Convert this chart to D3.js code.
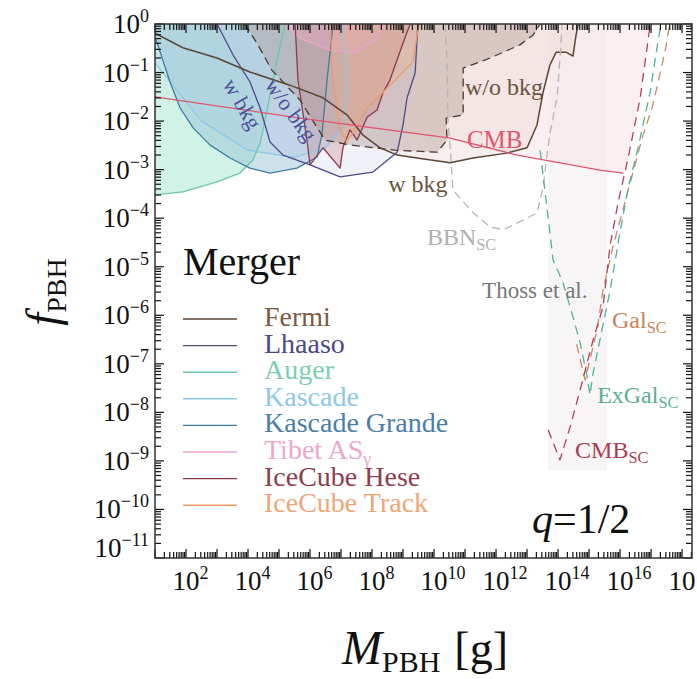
<!DOCTYPE html>
<html>
<head>
<meta charset="utf-8">
<script src="https://cdn.jsdelivr.net/npm/d3@7"></script>
<style>
  body { margin: 0; background: #fff; }
  svg text { font-family: "Liberation Serif", "Times New Roman", serif; }
</style>
</head>
<body>
<svg id="chart" width="697" height="679" font-family="Liberation Serif, Times New Roman, serif"></svg>
<script>
// all curves: [log10(M_PBH / g), log10(f_PBH)]
const fermiWBkg = [[1.0,-0.19],[1.90,-0.49],[3.0,-0.70],[4.06,-0.99],[5.35,-1.26],[6.42,-1.52],[7.19,-1.87],[7.71,-2.29],[8.26,-2.55],[8.81,-2.70],[9.45,-2.76],[10.52,-2.86],[11.26,-2.76],[12.35,-2.66],[13.0,-2.55],[13.32,-2.08],[13.52,-1.40],[13.74,-0.84],[13.94,-0.58],[14.26,-0.58],[14.48,-0.66],[14.58,-0.23],[14.65,0]];
const fermiWoBkg = [[3.90,0],[4.32,-0.43],[4.77,-0.95],[5.68,-1.57],[6.48,-2.39],[7.29,-2.49],[8.74,-2.60],[10.10,-2.64],[10.42,-2.39],[10.39,-1.94],[10.94,-1.87],[10.94,-0.91],[11.81,-0.70],[12.77,-0.43],[13.19,-0.23],[13.42,0]];
const lhaaso = [[3.0,0],[3.52,-0.64],[4.06,-1.19],[4.39,-1.73],[4.71,-2.43],[5.13,-2.70],[6.0,-2.90],[6.97,-3.15],[8.03,-3.05],[8.81,-2.64],[9.0,-2.08],[9.13,-1.52],[9.39,-1.01],[9.48,0]];
const auger = [[1.0,-3.52],[1.90,-3.46],[3.0,-3.25],[3.74,-3.07],[4.16,-2.80],[4.39,-2.45],[4.55,-1.98],[4.87,-0.95],[5.19,0]];
const kascade = [[1.0,-0.8],[2.5,-2.0],[4.0,-2.6],[5.5,-2.75],[6.5,-2.55],[7.1,-2.1],[7.2,-1.2],[7.05,0]];
const kascadeGrande = [[1.0,-0.30],[1.06,-0.37],[1.48,-1.19],[1.81,-1.73],[2.23,-2.14],[2.77,-2.49],[3.42,-2.76],[4.06,-2.97],[4.71,-3.07],[5.58,-2.97],[6.23,-2.74],[6.39,-2.25],[6.55,-1.15],[6.71,-0.19],[6.74,0]];
const tibet = [[5.19,0],[5.68,-0.29],[6.65,-0.54],[7.45,-0.58],[8.10,-0.33],[8.42,0]];
const iceHese = [[5.52,0],[5.61,-1.15],[5.90,-2.39],[6.0,-2.90],[6.42,-2.55],[6.97,-2.97],[7.06,-2.55],[7.29,-2.18],[7.52,-2.39],[7.84,-1.92],[8.16,-1.77],[8.35,-1.42],[8.58,-1.15],[9.0,-0.39],[9.23,0]];
const iceTrack = [[6.65,0],[6.74,-1.15],[6.97,-2.18],[7.19,-2.43],[7.52,-2.08],[7.84,-1.73],[8.58,-1.26],[9.32,-0.78],[9.45,-0.23],[9.55,0]];

const cmbLine = [[1.0,-1.50],[5.68,-1.94],[10.52,-2.35],[12.68,-2.70],[15.35,-3.01],[16.10,-3.07]];
const bbnSC = [[10.35,0],[10.42,-0.74],[10.45,-1.98],[10.52,-2.53],[10.61,-3.42],[11.26,-3.89],[11.81,-4.18],[12.23,-4.24],[12.87,-4.04],[13.32,-3.89],[13.52,-3.36],[13.65,-2.66],[13.74,-2.25],[13.97,-1.50],[14.06,-0.74],[14.13,0]];
const thoss = [[13.68,0],[13.68,-9.19],[15.58,-9.19],[15.58,0]];
const galSC = [[14.6,-6.6],[14.87,-7.33],[15.26,-6.30],[15.45,-5.48],[15.77,-4.59],[16.42,-3.05],[16.71,-2.35],[17.03,-1.73],[17.26,-1.11],[17.48,-0.47],[17.6,0]];
const exGalSC = [[13.42,-2.6],[13.84,-4.86],[14.16,-5.33],[14.48,-6.03],[14.71,-6.57],[14.94,-7.27],[15.03,-7.64],[15.13,-7.19],[15.35,-6.51],[15.68,-5.48],[16.0,-4.28],[16.26,-3.38],[16.58,-2.55],[16.97,-1.40],[17.19,-0.49],[17.32,0]];
const cmbSC = [[13.68,-8.36],[14.06,-8.98],[14.39,-8.30],[14.71,-7.54],[15.13,-6.51],[15.45,-5.83],[15.68,-4.55],[15.94,-3.67],[16.26,-2.76],[16.65,-1.52],[16.94,-0.16],[17.0,0]];

const legendNames = ["Fermi", "Lhaaso", "Auger", "Kascade", "Kascade Grande", "Tibet AS", "IceCube Hese", "IceCube Track"];
const xLabelExps = [2, 4, 6, 8, 10, 12, 14, 16, 18];
const yLabelExps = [0, -1, -2, -3, -4, -5, -6, -7, -8, -9, -10, -11];

const legendLine = ["#5b4636", "#4d4b88", "#6cc7a6", "#8cc8e6", "#3f7d9d", "#eaa6cc", "#8c3b4b", "#ec9c68"];
const legendText = ["#7b5a40", "#4b4a86", "#7ccfae", "#8ec8e6", "#4a7ea6", "#eaa7cf", "#8d3e4e", "#eea679"];

const svg = d3.select("#chart");
const L = 155, R = 692, T = 24, B = 558;

const x = d3.scaleLog().domain([1e1, Math.pow(10, 18.32)]).range([L, R]);
const y = d3.scaleLog().domain([1e-11, 1]).range([B, T]);
const line = d3.line().x(d => x(Math.pow(10, d[0]))).y(d => y(Math.pow(10, d[1])));

svg.append("defs").append("clipPath").attr("id", "plotclip")
	.append("rect").attr("x", L).attr("y", T).attr("width", R - L).attr("height", B - T);

const plot = svg.append("g").attr("clip-path", "url(#plotclip)");

// filled region bounded by a curve and the top of the frame
function region(pts, fill, op) {
	let poly = pts.concat([[pts[pts.length - 1][0], 1], [pts[0][0], 1]]);
	plot.append("path").attr("d", line(poly) + "Z")
		.attr("fill", fill).attr("fill-opacity", op).attr("stroke", "none");
}
function curve(pts, color, dash, w) {
	plot.append("path").attr("d", line(pts))
		.attr("fill", "none").attr("stroke", color)
		.attr("stroke-width", w || 1.3)
		.attr("stroke-dasharray", dash || null)
		.attr("stroke-linejoin", "round");
}

plot.append("path").attr("d", line(thoss) + "Z").attr("fill", "#f2eeee").attr("fill-opacity", 0.6);
region(cmbLine.concat(cmbSC.filter(p => p[1] > -3.07)), "#f7e2e4", 0.5);
region(fermiWBkg, "#ecd8d2", 0.4);
region(auger, "#c6efe1", 0.8);
region(kascade, "#b6dcee", 0.4);
region(kascadeGrande, "#9cc3d8", 0.5);
region(lhaaso, "#c8c6e6", 0.25);
region(fermiWoBkg, "#b09890", 0.4);
region(tibet, "#efb8d8", 0.45);
region(iceHese, "#c47e7e", 0.3);
region(iceTrack, "#f0b088", 0.3);

curve(auger, "#6cc7a6");
curve(kascade, "#8cc8e6");
curve(kascadeGrande, "#3f7d9d");
curve(lhaaso, "#4d4b88");
curve(tibet, "#eaa6cc");
curve(iceHese, "#8c3b4b");
curve(iceTrack, "#ec9c68");
curve(fermiWoBkg, "#4a3a30", "8,5");
curve(fermiWBkg, "#5b4636", null, 1.5);
curve(cmbLine, "#e0566e", null, 1.3);
curve(bbnSC, "#b4b4b4", "8,5");
curve(galSC, "#c98a60", "9,6");
curve(exGalSC, "#4eb39a", "9,6");
curve(cmbSC, "#b0405a", "9,6");

// annotations
function note(p, parts, color, size, rot) {
	let t = svg.append("text")
		.attr("x", x(Math.pow(10, p[0]))).attr("y", y(Math.pow(10, p[1])))
		.attr("fill", color).attr("font-size", size);
	if (rot) {
		t.attr("text-anchor", "middle")
			.attr("transform", `rotate(${rot},${x(Math.pow(10, p[0]))},${y(Math.pow(10, p[1]))})`);
	}
	t.append("tspan").text(parts[0]);
	if (parts[1]) t.append("tspan").attr("font-size", size * 0.68).attr("dy", 5).text(parts[1]);
}
note([11.0, -1.46], ["w/o bkg"], "#6b5442", 24);
note([8.52, -3.46], ["w bkg"], "#6b5442", 24);
note([11.06, -2.55], ["CMB"], "#e0566e", 25);
note([9.77, -4.55], ["BBN", "SC"], "#b0b0b0", 24);
note([11.55, -5.64], ["Thoss et al."], "#777777", 23);
note([15.74, -6.26], ["Gal", "SC"], "#c4865a", 24);
note([15.26, -7.81], ["ExGal", "SC"], "#5aae96", 24);
note([14.55, -8.94], ["CMB", "SC"], "#a83c52", 24);
note([3.61, -1.72], ["w bkg"], "#4f4f98", 22, 60);
note([5.19, -1.86], ["w/o bkg"], "#4f4f98", 22, 54);

// legend
svg.append("text").attr("x", 183).attr("y", 275).attr("font-size", 40).attr("fill", "#111").text("Merger");
legendNames.forEach((n, i) => {
	let ly = 319 + i * 26.6;
	svg.append("line").attr("x1", 183).attr("x2", 237).attr("y1", ly).attr("y2", ly)
		.attr("stroke", legendLine[i]).attr("stroke-width", 1.4);
	let t = svg.append("text").attr("x", 264).attr("y", ly + 7).attr("font-size", 28).attr("fill", legendText[i]);
	t.append("tspan").text(n);
	if (n === "Tibet AS") t.append("tspan").attr("font-size", 18).attr("dy", 6).text("γ");
});

let q = svg.append("text").attr("x", 532).attr("y", 533).attr("font-size", 42).attr("fill", "#111");
q.append("tspan").attr("font-style", "italic").text("q");
q.append("tspan").text("=1/2");

// ticks on all four sides
const tk = svg.append("g").attr("stroke", "#111").attr("stroke-width", 1.2);
for (let e = 1; e <= 18; e++) {
	for (let m = 1; m <= 9; m++) {
		let v = m * Math.pow(10, e);
		if (v > x.domain()[1]) continue;
		let xx = x(v), len = m === 1 ? 9 : 6;
		tk.append("line").attr("x1", xx).attr("x2", xx).attr("y1", B).attr("y2", B - len);
		tk.append("line").attr("x1", xx).attr("x2", xx).attr("y1", T).attr("y2", T + len);
	}
}
for (let e = -11; e <= 0; e++) {
	for (let m = 1; m <= 9; m++) {
		let v = m * Math.pow(10, e);
		if (v > 1) continue;
		let yy = y(v), len = m === 1 ? 9 : 6;
		tk.append("line").attr("x1", L).attr("x2", L + len).attr("y1", yy).attr("y2", yy);
		tk.append("line").attr("x1", R).attr("x2", R - len).attr("y1", yy).attr("y2", yy);
	}
}

svg.append("rect").attr("x", L).attr("y", T).attr("width", R - L).attr("height", B - T)
	.attr("fill", "none").attr("stroke", "#333").attr("stroke-width", 1.5);

// tick labels
xLabelExps.forEach(e => {
	let t = svg.append("text").attr("x", x(Math.pow(10, e)) - 13.5).attr("y", 590)
		.attr("font-size", 27).attr("fill", "#111");
	t.append("tspan").text("10");
	t.append("tspan").attr("font-size", 18).attr("dy", -11).text(e);
});
yLabelExps.forEach(e => {
	let yy = y(Math.pow(10, e)) + 9 - (e === -11 ? 10 : 0);
	let t = svg.append("text").attr("x", 149).attr("y", yy).attr("text-anchor", "end")
		.attr("font-size", 27).attr("fill", "#111");
	t.append("tspan").text("10");
	t.append("tspan").attr("font-size", 18).attr("dy", -11).text(e === 0 ? "0" : "\u2212" + (-e));
});

// axis titles
let yt = svg.append("text").attr("transform", "translate(58,292) rotate(-90)")
	.attr("text-anchor", "middle").attr("fill", "#111");
yt.append("tspan").attr("font-size", 46).attr("font-style", "italic").text("f");
yt.append("tspan").attr("font-size", 28).attr("dy", 8).text("PBH");

let xt = svg.append("text").attr("x", 425).attr("y", 664)
	.attr("text-anchor", "middle").attr("fill", "#111");
xt.append("tspan").attr("font-size", 48).attr("font-style", "italic").text("M");
xt.append("tspan").attr("font-size", 30).attr("dy", 8).text("PBH");
xt.append("tspan").attr("font-size", 46).attr("dy", -8).attr("dx", 14).text("[g]");
</script>
</body>
</html>
